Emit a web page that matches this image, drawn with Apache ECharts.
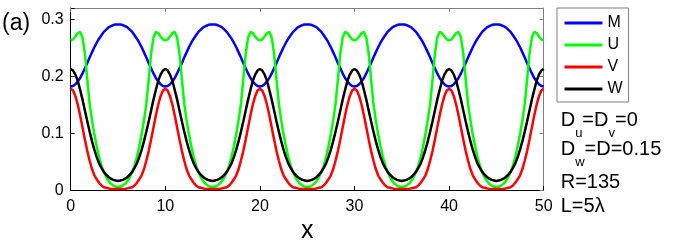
<!DOCTYPE html>
<html><head><meta charset="utf-8">
<script src="https://cdn.jsdelivr.net/npm/echarts@6/dist/echarts.min.js"></script>
<style>html,body{margin:0;padding:0;background:#fff}#c{width:675px;height:249px}</style>
</head><body><div id="c"></div>
<script>
const FONT = '"Liberation Sans", Arial, Helvetica, sans-serif';

const xValues = [
0,0.25,0.5,0.75,1,1.25,1.5,1.75,2,2.25,2.5,2.75,3,3.25,3.5,3.75,4,4.25,4.5,4.75,5,5.25,5.5,5.75,6,6.25,6.5,6.75,7,7.25,7.5,7.75,8,8.25,8.5,8.75,9,9.25,9.5,9.75,
10,10.25,10.5,10.75,11,11.25,11.5,11.75,12,12.25,12.5,12.75,13,13.25,13.5,13.75,14,14.25,14.5,14.75,15,15.25,15.5,15.75,16,16.25,16.5,16.75,17,17.25,17.5,17.75,18,18.25,18.5,18.75,19,19.25,19.5,19.75,
20,20.25,20.5,20.75,21,21.25,21.5,21.75,22,22.25,22.5,22.75,23,23.25,23.5,23.75,24,24.25,24.5,24.75,25,25.25,25.5,25.75,26,26.25,26.5,26.75,27,27.25,27.5,27.75,28,28.25,28.5,28.75,29,29.25,29.5,29.75,
30,30.25,30.5,30.75,31,31.25,31.5,31.75,32,32.25,32.5,32.75,33,33.25,33.5,33.75,34,34.25,34.5,34.75,35,35.25,35.5,35.75,36,36.25,36.5,36.75,37,37.25,37.5,37.75,38,38.25,38.5,38.75,39,39.25,39.5,39.75,
40,40.25,40.5,40.75,41,41.25,41.5,41.75,42,42.25,42.5,42.75,43,43.25,43.5,43.75,44,44.25,44.5,44.75,45,45.25,45.5,45.75,46,46.25,46.5,46.75,47,47.25,47.5,47.75,48,48.25,48.5,48.75,49,49.25,49.5,49.75,
50];

const M = [
0.182,0.183,0.186,0.191,0.197,0.205,0.214,0.223,0.233,0.242,0.251,0.259,0.266,0.272,0.278,0.282,0.286,0.288,0.290,0.291,0.291,0.291,0.290,0.288,0.286,0.282,0.278,0.272,0.266,0.259,0.251,0.242,0.233,0.223,0.214,0.205,0.197,0.191,0.186,0.183,
0.182,0.183,0.186,0.191,0.197,0.205,0.214,0.223,0.233,0.242,0.251,0.259,0.266,0.272,0.278,0.282,0.286,0.288,0.290,0.291,0.291,0.291,0.290,0.288,0.286,0.282,0.278,0.272,0.266,0.259,0.251,0.242,0.233,0.223,0.214,0.205,0.197,0.191,0.186,0.183,
0.182,0.183,0.186,0.191,0.197,0.205,0.214,0.223,0.233,0.242,0.251,0.259,0.266,0.272,0.278,0.282,0.286,0.288,0.290,0.291,0.291,0.291,0.290,0.288,0.286,0.282,0.278,0.272,0.266,0.259,0.251,0.242,0.233,0.223,0.214,0.205,0.197,0.191,0.186,0.183,
0.182,0.183,0.186,0.191,0.197,0.205,0.214,0.223,0.233,0.242,0.251,0.259,0.266,0.272,0.278,0.282,0.286,0.288,0.290,0.291,0.291,0.291,0.290,0.288,0.286,0.282,0.278,0.272,0.266,0.259,0.251,0.242,0.233,0.223,0.214,0.205,0.197,0.191,0.186,0.183,
0.182,0.183,0.186,0.191,0.197,0.205,0.214,0.223,0.233,0.242,0.251,0.259,0.266,0.272,0.278,0.282,0.286,0.288,0.290,0.291,0.291,0.291,0.290,0.288,0.286,0.282,0.278,0.272,0.266,0.259,0.251,0.242,0.233,0.223,0.214,0.205,0.197,0.191,0.186,0.183,
0.182];

const U = [
0.263,0.265,0.270,0.276,0.278,0.268,0.240,0.195,0.152,0.123,0.098,0.077,0.058,0.043,0.032,0.023,0.016,0.011,0.008,0.006,0.006,0.006,0.008,0.011,0.016,0.023,0.032,0.043,0.058,0.077,0.098,0.123,0.152,0.195,0.240,0.268,0.278,0.276,0.270,0.265,
0.263,0.265,0.270,0.276,0.278,0.268,0.240,0.195,0.152,0.123,0.098,0.077,0.058,0.043,0.032,0.023,0.016,0.011,0.008,0.006,0.006,0.006,0.008,0.011,0.016,0.023,0.032,0.043,0.058,0.077,0.098,0.123,0.152,0.195,0.240,0.268,0.278,0.276,0.270,0.265,
0.263,0.265,0.270,0.276,0.278,0.268,0.240,0.195,0.152,0.123,0.098,0.077,0.058,0.043,0.032,0.023,0.016,0.011,0.008,0.006,0.006,0.006,0.008,0.011,0.016,0.023,0.032,0.043,0.058,0.077,0.098,0.123,0.152,0.195,0.240,0.268,0.278,0.276,0.270,0.265,
0.263,0.265,0.270,0.276,0.278,0.268,0.240,0.195,0.152,0.123,0.098,0.077,0.058,0.043,0.032,0.023,0.016,0.011,0.008,0.006,0.006,0.006,0.008,0.011,0.016,0.023,0.032,0.043,0.058,0.077,0.098,0.123,0.152,0.195,0.240,0.268,0.278,0.276,0.270,0.265,
0.263,0.265,0.270,0.276,0.278,0.268,0.240,0.195,0.152,0.123,0.098,0.077,0.058,0.043,0.032,0.023,0.016,0.011,0.008,0.006,0.006,0.006,0.008,0.011,0.016,0.023,0.032,0.043,0.058,0.077,0.098,0.123,0.152,0.195,0.240,0.268,0.278,0.276,0.270,0.265,
0.263];

const V = [
0.178,0.175,0.165,0.150,0.131,0.110,0.089,0.069,0.052,0.037,0.026,0.019,0.013,0.008,0.005,0.004,0.003,0.002,0.002,0.002,0.002,0.002,0.002,0.002,0.003,0.004,0.005,0.008,0.013,0.019,0.026,0.037,0.052,0.069,0.089,0.110,0.131,0.150,0.165,0.175,
0.178,0.175,0.165,0.150,0.131,0.110,0.089,0.069,0.052,0.037,0.026,0.019,0.013,0.008,0.005,0.004,0.003,0.002,0.002,0.002,0.002,0.002,0.002,0.002,0.003,0.004,0.005,0.008,0.013,0.019,0.026,0.037,0.052,0.069,0.089,0.110,0.131,0.150,0.165,0.175,
0.178,0.175,0.165,0.150,0.131,0.110,0.089,0.069,0.052,0.037,0.026,0.019,0.013,0.008,0.005,0.004,0.003,0.002,0.002,0.002,0.002,0.002,0.002,0.002,0.003,0.004,0.005,0.008,0.013,0.019,0.026,0.037,0.052,0.069,0.089,0.110,0.131,0.150,0.165,0.175,
0.178,0.175,0.165,0.150,0.131,0.110,0.089,0.069,0.052,0.037,0.026,0.019,0.013,0.008,0.005,0.004,0.003,0.002,0.002,0.002,0.002,0.002,0.002,0.002,0.003,0.004,0.005,0.008,0.013,0.019,0.026,0.037,0.052,0.069,0.089,0.110,0.131,0.150,0.165,0.175,
0.178,0.175,0.165,0.150,0.131,0.110,0.089,0.069,0.052,0.037,0.026,0.019,0.013,0.008,0.005,0.004,0.003,0.002,0.002,0.002,0.002,0.002,0.002,0.002,0.003,0.004,0.005,0.008,0.013,0.019,0.026,0.037,0.052,0.069,0.089,0.110,0.131,0.150,0.165,0.175,
0.178];

const W = [
0.213,0.210,0.203,0.192,0.176,0.159,0.140,0.121,0.103,0.086,0.071,0.058,0.047,0.039,0.032,0.027,0.023,0.020,0.018,0.017,0.016,0.017,0.018,0.020,0.023,0.027,0.032,0.039,0.047,0.058,0.071,0.086,0.103,0.121,0.140,0.159,0.176,0.192,0.203,0.210,
0.213,0.210,0.203,0.192,0.176,0.159,0.140,0.121,0.103,0.086,0.071,0.058,0.047,0.039,0.032,0.027,0.023,0.020,0.018,0.017,0.016,0.017,0.018,0.020,0.023,0.027,0.032,0.039,0.047,0.058,0.071,0.086,0.103,0.121,0.140,0.159,0.176,0.192,0.203,0.210,
0.213,0.210,0.203,0.192,0.176,0.159,0.140,0.121,0.103,0.086,0.071,0.058,0.047,0.039,0.032,0.027,0.023,0.020,0.018,0.017,0.016,0.017,0.018,0.020,0.023,0.027,0.032,0.039,0.047,0.058,0.071,0.086,0.103,0.121,0.140,0.159,0.176,0.192,0.203,0.210,
0.213,0.210,0.203,0.192,0.176,0.159,0.140,0.121,0.103,0.086,0.071,0.058,0.047,0.039,0.032,0.027,0.023,0.020,0.018,0.017,0.016,0.017,0.018,0.020,0.023,0.027,0.032,0.039,0.047,0.058,0.071,0.086,0.103,0.121,0.140,0.159,0.176,0.192,0.203,0.210,
0.213,0.210,0.203,0.192,0.176,0.159,0.140,0.121,0.103,0.086,0.071,0.058,0.047,0.039,0.032,0.027,0.023,0.020,0.018,0.017,0.016,0.017,0.018,0.020,0.023,0.027,0.032,0.039,0.047,0.058,0.071,0.086,0.103,0.121,0.140,0.159,0.176,0.192,0.203,0.210,
0.213];

const seriesNames = ['M', 'U', 'V', 'W'];
const seriesColors = ['#0000ff', '#00ff00', '#ff0000', '#000000'];
const xTickLabels = [0, 10, 20, 30, 40, 50];
const yTickLabels = [0, 0.1, 0.2, 0.3];
const panelLabel = '(a)';
const xAxisName = 'x';
const noteLines = ['D_u=D_v=0', 'D_w=D=0.15', 'R=135', 'L=5λ'];

const chart = echarts.init(document.getElementById('c'), null, {renderer: 'canvas'});
const seriesData = [M, U, V, W];

const DARK = '#000000', GRAY = '#7f7f7f';
function axisCommon(color) {
  return {
    axisLine: {show: true, onZero: false, lineStyle: {color: color, width: 1}},
    axisTick: {show: true, inside: true, length: 4, lineStyle: {color: color, width: 1}},
    splitLine: {show: false}
  };
}
const yFmt = v => {
  for (const t of yTickLabels) if (Math.abs(v - t) < 1e-6) return String(t);
  return '';
};
const xFmt = v => {
  for (const t of xTickLabels) if (Math.abs(v - t) < 1e-6) return String(t);
  return '';
};

// notes text
const ctx = document.createElement('canvas').getContext('2d');
function tw(t, size) { ctx.font = size + 'px ' + FONT; return ctx.measureText(t).width; }
const NOTE_X = 560.7, NOTE_Y = [120.5, 149.2, 182.5, 206.2], MAIN_FS = 20, SUB_FS = 13, SUB_DY = 13;
const graphics = [{
  type: 'text', x: 2, y: 24,
  style: {text: panelLabel, fontSize: 23, fontFamily: FONT, fill: '#000',
    align: 'left', verticalAlign: 'middle', textAlign: 'left', textVerticalAlign: 'middle'}
}];
noteLines.forEach((line, i) => {
  let x = NOTE_X;
  const parts = line.split(/(_.)/).filter(s => s.length);
  parts.forEach(p => {
    const sub = p[0] === '_';
    const t = sub ? p.slice(1) : p;
    const fs = sub ? SUB_FS : MAIN_FS;
    graphics.push({
      type: 'text', x: x, y: NOTE_Y[i] + (sub ? SUB_DY : 0),
      style: {text: t, fontSize: fs, fontFamily: FONT, fill: '#000',
        align: 'left', verticalAlign: 'middle', textAlign: 'left', textVerticalAlign: 'middle'}
    });
    x += tw(t, fs);
  });
});

const option = {
  animation: false,
  backgroundColor: '#ffffff',
  grid: {left: 70.7, right: 131.3, top: 8, bottom: 31, containLabel: false},
  legend: {
    show: true, orient: 'vertical', left: 557, top: 8,
    padding: [6.5, 6, 4.5, 7.5],
    itemWidth: 38, itemHeight: 3, itemGap: 5, icon: 'rect',
    borderColor: GRAY, borderWidth: 1,
    textStyle: {fontSize: 16, lineHeight: 17, fontFamily: FONT, color: '#000'},
    data: seriesNames
  },
  xAxis: [
    Object.assign({
      type: 'value', min: 0, max: 50, interval: 10, position: 'bottom',
      axisLabel: {margin: 8, fontSize: 16, fontFamily: FONT, color: '#000', formatter: xFmt},
      name: xAxisName, nameLocation: 'middle', nameGap: 6,
      nameTextStyle: {fontSize: 25, fontFamily: FONT, color: '#000'}
    }, axisCommon(DARK)),
    Object.assign({
      type: 'value', min: 0, max: 50, interval: 10, position: 'top',
      axisLabel: {show: false}
    }, axisCommon(GRAY))
  ],
  yAxis: [
    Object.assign({
      type: 'value', min: 0, max: 0.32, interval: 0.1, position: 'left',
      axisLabel: {margin: 7, fontSize: 16, fontFamily: FONT, color: '#000', formatter: yFmt}
    }, axisCommon(DARK)),
    Object.assign({
      type: 'value', min: 0, max: 0.32, interval: 0.1, position: 'right',
      axisLabel: {show: false}
    }, axisCommon(GRAY))
  ],
  graphic: graphics,
  series: seriesNames.map((name, k) => ({
    name: name, type: 'line', xAxisIndex: 0, yAxisIndex: 0,
    symbol: 'none', showSymbol: false, smooth: false,
    lineStyle: {color: seriesColors[k], width: 2.5},
    itemStyle: {color: seriesColors[k]},
    data: xValues.map((x, i) => [x, seriesData[k][i]])
  }))
};
chart.setOption(option);
</script>
</body></html>
